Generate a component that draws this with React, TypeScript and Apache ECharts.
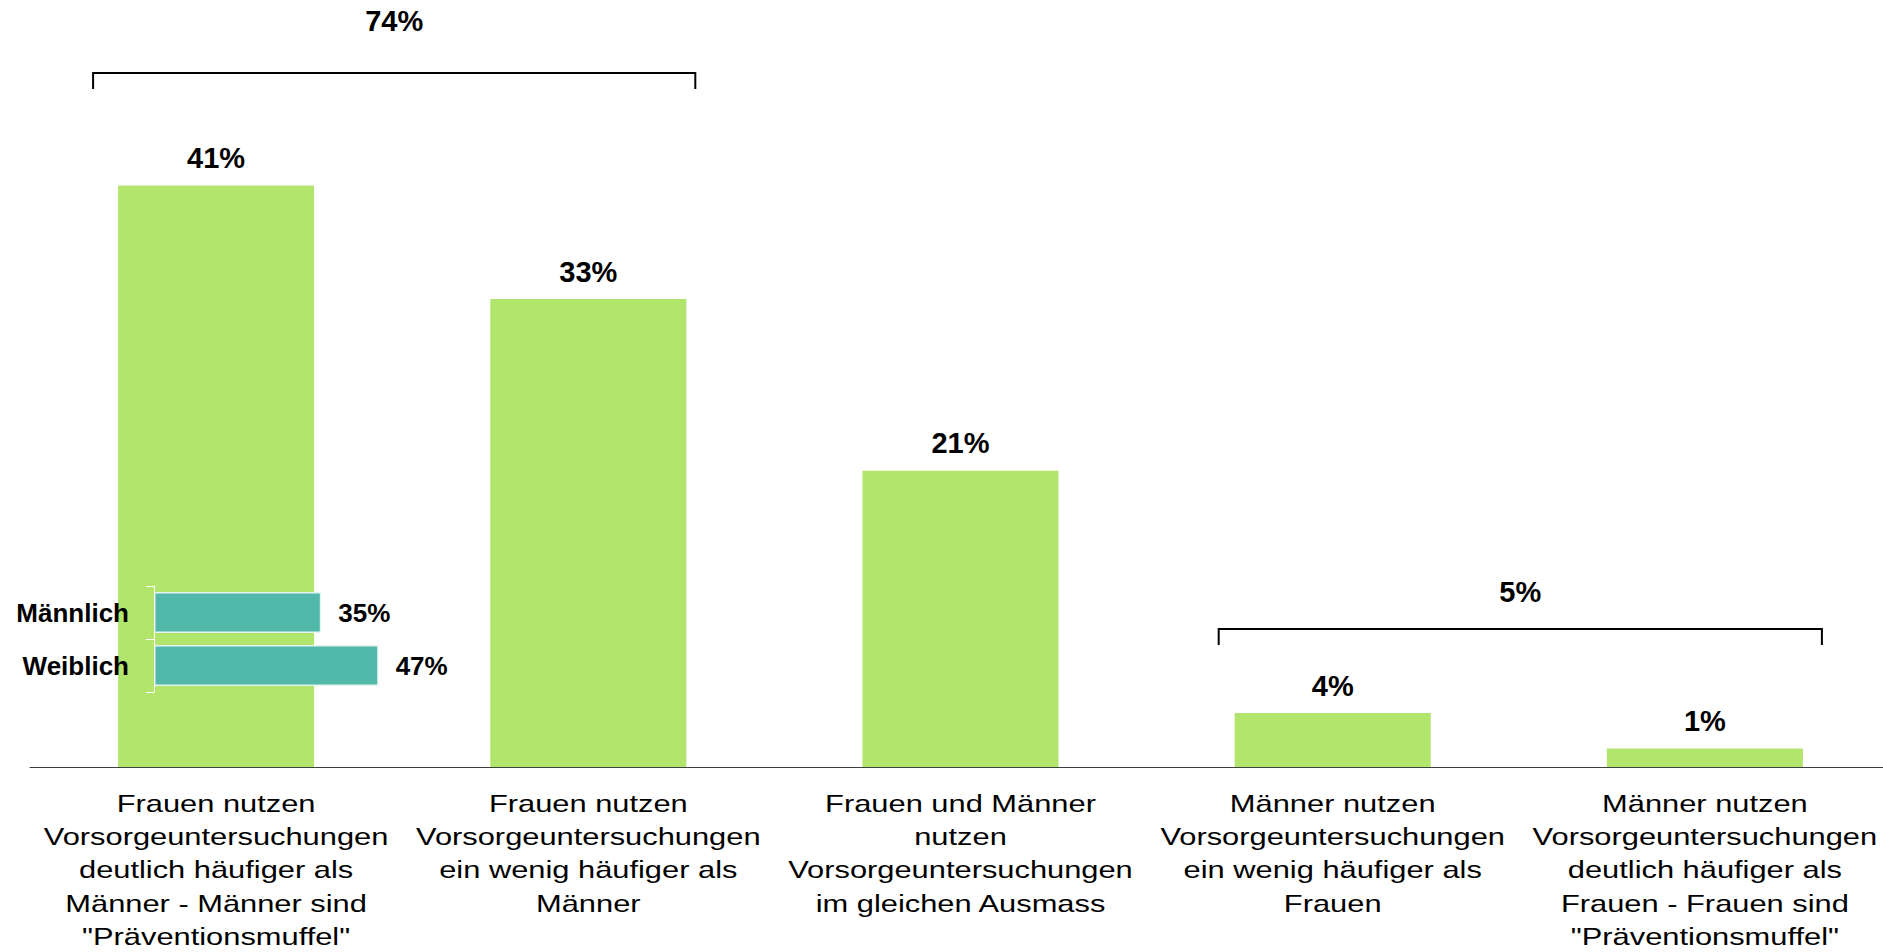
import React, { useEffect, useRef } from "react";
import * as echarts from "echarts";

const categories = [
  'Frauen nutzen\nVorsorgeuntersuchungen\ndeutlich häufiger als\nMänner - Männer sind\n"Präventionsmuffel"',
  "Frauen nutzen\nVorsorgeuntersuchungen\nein wenig häufiger als\nMänner",
  "Frauen und Männer\nnutzen\nVorsorgeuntersuchungen\nim gleichen Ausmass",
  "Männer nutzen\nVorsorgeuntersuchungen\nein wenig häufiger als\nFrauen",
  'Männer nutzen\nVorsorgeuntersuchungen\ndeutlich häufiger als\nFrauen - Frauen sind\n"Präventionsmuffel"',
];
const shares = [41, 33, 20.9, 3.8, 1.3];
const genderLabels = ["Männlich", "Weiblich"];
const genderShares = [35, 47];

const GREEN = "#B2E56B";
const TEAL = "#52B8AA";
const FONT = '"Liberation Sans", Arial, Helvetica, sans-serif';

export default function App() {
  const ref = useRef<HTMLDivElement>(null);
  useEffect(() => {
    if (!ref.current) return;
    const chart = echarts.init(ref.current, null, { renderer: "svg" });
    const option: any = {
      animation: false,
      backgroundColor: "#fff",
      grid: [
        { left: 30, top: 58, width: 1861, height: 709 },
        { left: 154, top: 586, width: 478, height: 106 },
      ],
      xAxis: [
        {
          type: "category",
          gridIndex: 0,
          data: categories,
          axisLine: { show: true, lineStyle: { color: "#404040", width: 1 } },
          axisTick: { show: false },
          axisLabel: { show: false },
        },
        { type: "value", gridIndex: 1, min: 0, max: 100, show: false },
      ],
      yAxis: [
        { type: "value", gridIndex: 0, min: 0, max: 50, show: false },
        {
          type: "category",
          gridIndex: 1,
          data: genderLabels,
          inverse: true,
          z: 10,
          axisLine: { show: true, lineStyle: { color: "#ffffff", width: 1 } },
          axisTick: { show: true, length: 8, lineStyle: { color: "#ffffff", width: 1 } },
          axisLabel: {
            fontFamily: FONT,
            fontWeight: "bold",
            fontSize: 26,
            color: "#000",
            margin: 25,
          },
          splitLine: { show: false },
        },
      ],
      series: [
        {
          type: "bar",
          xAxisIndex: 0,
          yAxisIndex: 0,
          data: shares,
          barWidth: 196,
          itemStyle: { color: GREEN },
          label: {
            show: true,
            position: "top",
            distance: 13,
            fontFamily: FONT,
            fontWeight: "bold",
            fontSize: 29,
            color: "#000",
            formatter: (p: any) => Math.round(p.value) + "%",
          },
          z: 2,
        },
        {
          type: "bar",
          xAxisIndex: 1,
          yAxisIndex: 1,
          data: genderShares,
          barWidth: 41,
          itemStyle: { color: TEAL, borderColor: "#e4f5f1", borderWidth: 1.5 },
          label: {
            show: true,
            position: "right",
            distance: 17,
            fontFamily: FONT,
            fontWeight: "bold",
            fontSize: 26,
            color: "#000",
            formatter: (p: any) => p.value + "%",
          },
          z: 5,
        },
      ],
    };
    chart.setOption(option);

    const baseY = chart.convertToPixel({ yAxisIndex: 0 }, 0) as number;
    const xs = categories.map((_, i) => chart.convertToPixel({ xAxisIndex: 0 }, i) as number);
    const total1 = Math.round(shares[0] + shares[1]);
    const total2 = Math.round(shares[3] + shares[4]);

    const catTexts = categories.map((c, i) => ({
      type: "text",
      x: xs[i],
      y: baseY + 20,
      scaleX: 1.285,
      scaleY: 1,
      silent: true,
      style: {
        text: c,
        fontFamily: FONT,
        fontSize: 24,
        fill: "#000",
        align: "center",
        verticalAlign: "top",
        lineHeight: 33.3,
      },
    }));

    const b1l = xs[0] - 123, b1r = xs[1] + 107;
    const b2l = xs[3] - 114, b2r = xs[4] + 117;

    chart.setOption({
      graphic: [
        ...catTexts,
        {
          type: "polyline",
          shape: { points: [[b1l, 89], [b1l, 73], [b1r, 73], [b1r, 89]] },
          style: { stroke: "#000", lineWidth: 2, fill: null },
        },
        {
          type: "text",
          x: (b1l + b1r) / 2,
          y: 21,
          style: {
            text: total1 + "%",
            fontFamily: FONT,
            fontWeight: "bold",
            fontSize: 29,
            fill: "#000",
            align: "center",
            verticalAlign: "middle",
          },
        },
        {
          type: "polyline",
          shape: { points: [[b2l, 645], [b2l, 629], [b2r, 629], [b2r, 645]] },
          style: { stroke: "#000", lineWidth: 2, fill: null },
        },
        {
          type: "text",
          x: (b2l + b2r) / 2,
          y: 592,
          style: {
            text: total2 + "%",
            fontFamily: FONT,
            fontWeight: "bold",
            fontSize: 29,
            fill: "#000",
            align: "center",
            verticalAlign: "middle",
          },
        },
      ],
    });

    return () => chart.dispose();
  }, []);

  return (
    <div
      style={{
        position: "absolute",
        left: 0,
        top: 0,
        width: 1883,
        height: 952,
        overflow: "hidden",
        background: "#fff",
      }}
    >
      <div ref={ref} style={{ width: 1891, height: 952 }} />
    </div>
  );
}
